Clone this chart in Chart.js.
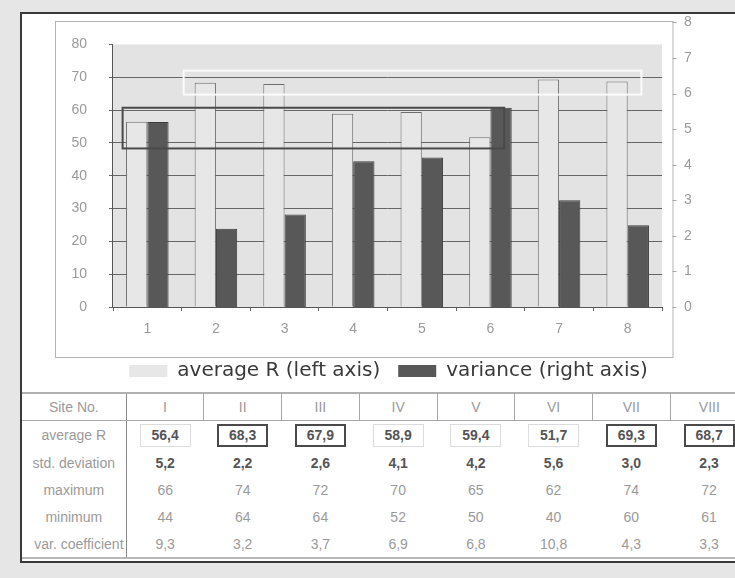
<!DOCTYPE html>
<html>
<head>
<meta charset="utf-8">
<script src="https://cdn.jsdelivr.net/npm/chart.js@4.4.1/dist/chart.umd.min.js"></script>
<style>
  body { margin: 0; width: 735px; height: 578px; overflow: hidden; position: relative; background: #e6e6e6; font-family: "Liberation Sans", Arial, sans-serif; }
  #panel { position: absolute; left: 20px; top: 12px; width: 760px; height: 547px; background: #fff; border: 2px solid #3a3a3a; border-right: none; }
  #chart { position: absolute; left: 0; top: -8px; }
  #stats { position: absolute; left: 22px; top: 392px; border-collapse: collapse; table-layout: fixed; width: 726px; font-size: 14px; color: #9a9a9a; }
  #stats td { text-align: center; padding: 0; white-space: nowrap; overflow: hidden; }
  #stats tr.head td { height: 26px; border-top: 2px solid #b0b0b0; border-bottom: 1px solid #a8a8a8; border-left: 1px solid #a8a8a8; }
  #stats tr.row td { height: 27px; }
  #stats tr.last td { border-bottom: 2px solid #b8b8b8; }
  #stats td.lab { border-right: 1px solid #8a8a8a; }
  #stats .bold { font-weight: bold; color: #555; }
  .box { display: inline-block; width: 49px; height: 21px; line-height: 21px; border: 1px solid #dcdcdc; font-weight: bold; color: #555; }
  .box.hi { border: 2px solid #4a4a4a; width: 47px; height: 19px; line-height: 19px; }
</style>
</head>
<body>
<div id="panel"></div>
<canvas id="chart" width="735" height="399"></canvas>
<table id="stats"></table>
<script>
// ============================
// Dados
// ============================
const categories = ["1", "2", "3", "4", "5", "6", "7", "8"];
const averageR = [56.4, 68.3, 67.9, 58.9, 59.4, 51.7, 69.3, 68.7];
const variance = [5.2, 2.2, 2.6, 4.1, 4.2, 5.6, 3.0, 2.3];

const siteNumbers = ["I", "II", "III", "IV", "V", "VI", "VII", "VIII"];
const maximum = [66, 74, 72, 70, 65, 62, 74, 72];
const minimum = [44, 64, 64, 52, 50, 40, 60, 61];
const varCoefficient = [9.3, 3.2, 3.7, 6.9, 6.8, 10.8, 4.3, 3.3];
const highGroup = [false, true, true, false, false, false, true, true];

// grupos marcados no gráfico (categoria de/até, valor mín/máx no eixo esquerdo)
const lowGroupSpan = [-0.36, 5.2];
const lowGroupRange = [48.3, 60.7];
const highGroupSpan = [0.53, 7.2];
const highGroupRange = [64.7, 72.0];

const leftTicks = [0, 10, 20, 30, 40, 50, 60, 70, 80];

// ============================
// Tabela
// ============================
function fmt(v) {
    return v.toFixed(1).replace(".", ",");
}

function buildTable() {
    const table = document.getElementById("stats");
    let html = "<colgroup><col style='width:104px'>" + siteNumbers.map(() => "<col style='width:77.7px'>").join("") + "</colgroup>";
    html += "<tr class='head'><td class='lab' style='border-left:none'>Site No.</td>" + siteNumbers.map(s => `<td>${s}</td>`).join("") + "</tr>";
    html += "<tr class='row'><td class='lab' style='height:28px'>average R</td>" +
        averageR.map((v, i) => `<td><span class="box${highGroup[i] ? " hi" : ""}">${fmt(v)}</span></td>`).join("") + "</tr>";
    html += "<tr class='row'><td class='lab'>std. deviation</td>" + variance.map(v => `<td class="bold">${fmt(v)}</td>`).join("") + "</tr>";
    html += "<tr class='row'><td class='lab'>maximum</td>" + maximum.map(v => `<td>${v}</td>`).join("") + "</tr>";
    html += "<tr class='row'><td class='lab'>minimum</td>" + minimum.map(v => `<td>${v}</td>`).join("") + "</tr>";
    html += "<tr class='row last'><td class='lab' style='text-align:right;padding-right:2px'>var. coefficient</td>" + varCoefficient.map(v => `<td>${fmt(v)}</td>`).join("") + "</tr>";
    table.innerHTML = html;
}

// ============================
// Decoração do gráfico
// ============================
const FRAME_LEFT = 55.5;
const FRAME_BOTTOM = 365.5; // coordenadas do canvas (deslocado 8px para cima)
const AXIS_GAP = 11;

const decor = {
    id: "decor",
    beforeDraw(chart) {
        const { ctx, chartArea: a, scales } = chart;
        const top = scales.y.getPixelForValue(80);
        ctx.save();
        ctx.strokeStyle = "#b4b4b4";
        ctx.lineWidth = 1;
        ctx.strokeRect(FRAME_LEFT, Math.round(a.top) - 0.5, a.right + AXIS_GAP - FRAME_LEFT, FRAME_BOTTOM - Math.round(a.top) + 0.5);
        ctx.fillStyle = "#e3e3e3";
        ctx.fillRect(a.left, top, a.right - a.left, a.bottom - top);
        ctx.restore();
    },
    afterDatasetsDraw(chart) {
        const { ctx, chartArea: a, scales } = chart;
        const x = scales.x, y = scales.y, y1 = scales.y1;
        ctx.save();

        // eixo esquerdo só até 80
        ctx.strokeStyle = "#555";
        ctx.lineWidth = 1;
        ctx.beginPath();
        ctx.moveTo(Math.round(a.left) - 0.5, y.getPixelForValue(80));
        ctx.lineTo(Math.round(a.left) - 0.5, a.bottom);
        ctx.stroke();

        // marcas do eixo direito
        const rx = Math.round(a.right + AXIS_GAP) - 0.5;
        ctx.strokeStyle = "#a8a8a8";
        y1.ticks.forEach(t => {
            const py = Math.round(y1.getPixelForValue(t.value)) + 0.5;
            ctx.beginPath();
            ctx.moveTo(rx, py);
            ctx.lineTo(rx + 4, py);
            ctx.stroke();
        });

        // caixas dos grupos
        ctx.lineWidth = 2;
        ctx.strokeStyle = "#fbfbfb";
        ctx.strokeRect(x.getPixelForValue(highGroupSpan[0]), y.getPixelForValue(highGroupRange[1]),
            x.getPixelForValue(highGroupSpan[1]) - x.getPixelForValue(highGroupSpan[0]),
            y.getPixelForValue(highGroupRange[0]) - y.getPixelForValue(highGroupRange[1]));
        ctx.strokeStyle = "#4a4a4a";
        ctx.strokeRect(x.getPixelForValue(lowGroupSpan[0]), y.getPixelForValue(lowGroupRange[1]),
            x.getPixelForValue(lowGroupSpan[1]) - x.getPixelForValue(lowGroupSpan[0]),
            y.getPixelForValue(lowGroupRange[0]) - y.getPixelForValue(lowGroupRange[1]));
        ctx.restore();
    }
};

// ============================
// Gráfico
// ============================
const tickFont = { family: "'Liberation Sans', Arial, sans-serif", size: 14 };

new Chart(document.getElementById("chart").getContext("2d"), {
    type: "bar",
    data: {
        labels: categories,
        datasets: [
            {
                label: "average R (left axis)",
                data: averageR,
                yAxisID: "y",
                backgroundColor: "#e7e7e7",
                borderColor: "#6e6e6e",
                borderWidth: 1
            },
            {
                label: "variance (right axis)",
                data: variance,
                yAxisID: "y1",
                backgroundColor: "#585858",
                borderColor: "#3c3c3c",
                borderWidth: 1
            }
        ]
    },
    options: {
        responsive: false,
        animation: false,
        categoryPercentage: 0.62,
        barPercentage: 1.0,
        layout: { padding: { left: 42, right: 0, top: 14, bottom: 0 } },
        plugins: {
            tooltip: { enabled: false },
            legend: {
                position: "bottom",
                labels: {
                    boxWidth: 38,
                    boxHeight: 12,
                    padding: 18,
                    color: "#3a3a3a",
                    font: { family: "'DejaVu Sans', sans-serif", size: 20 },
                    generateLabels: chart => Chart.defaults.plugins.legend.labels.generateLabels(chart).map(l => ({ ...l, lineWidth: 0 }))
                }
            }
        },
        scales: {
            x: {
                grid: { display: true, drawOnChartArea: false, tickLength: 4, color: "#666" },
                border: { color: "#555" },
                ticks: { color: "#9a9a9a", font: tickFont, padding: 10 },
                afterFit: s => { s.height = 36; }
            },
            y: {
                position: "left",
                min: 0,
                max: 86.7,
                afterBuildTicks: s => { s.ticks = leftTicks.map(v => ({ value: v })); },
                ticks: { color: "#9a9a9a", font: tickFont, padding: 22 },
                grid: {
                    color: c => (c.tick && c.tick.value === 80 ? "rgba(0,0,0,0)" : "#666"),
                    tickColor: "#666",
                    tickLength: 4
                },
                border: { display: false },
                afterFit: s => { s.width = 71; }
            },
            y1: {
                position: "right",
                min: 0,
                max: 8,
                ticks: { stepSize: 1, color: "#9a9a9a", font: tickFont, padding: 22 },
                grid: { display: false, drawTicks: false },
                border: { display: false },
                afterFit: s => { s.width = 73; }
            }
        }
    },
    plugins: [decor]
});

buildTable();
</script>
</body>
</html>
